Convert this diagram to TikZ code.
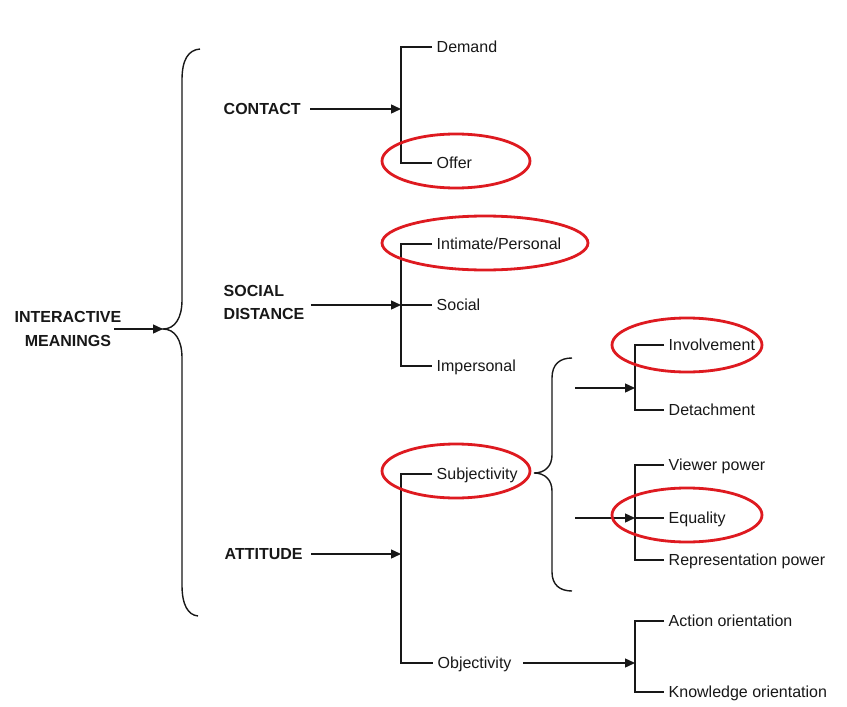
\documentclass[tikz,border=0pt]{standalone}
\usepackage{fontspec}
\setmainfont{Liberation Sans}
\usetikzlibrary{arrows.meta}
\definecolor{ringred}{RGB}{222,26,32}
\definecolor{ink}{RGB}{24,24,24}
\begin{document}
\begin{tikzpicture}[x=1pt,y=-1pt,
  line width=1.4pt, draw=ink,
  leaf/.style={anchor=west,inner xsep=4pt,inner ysep=0pt,text height=11.5pt,text depth=0pt,
    text=ink,font=\fontsize{16}{19}\selectfont},
  head/.style={anchor=west,inner sep=0pt,text height=11.5pt,text depth=0pt,
    text=ink,font=\fontsize{16}{19}\selectfont\bfseries},
  headtwo/.style={inner sep=0pt,text=ink,font=\fontsize{16}{23.5}\selectfont\bfseries},
  arr/.style={-{Triangle[length=10pt,width=9pt]}},
  ring/.style={draw=ringred,line width=2.8pt},
]
% page
\fill[white] (0,0) rectangle (847,707);
\useasboundingbox (0,0) rectangle (847,707);

% headings
\node[headtwo,align=center] (im) at (68,329) {INTERACTIVE\\MEANINGS};
\node[head] (contact) at (223,109) {CONTACT};
\node[headtwo,align=left,anchor=west] (sd) at (223,302.5) {SOCIAL\\DISTANCE};
\node[head] (att) at (224,554) {ATTITUDE};

% leaves
\node[leaf] (demand) at (432,47) {Demand};
\node[leaf] (offer) at (432,163) {Offer};
\node[leaf] (intimate) at (432,244) {Intimate/Personal};
\node[leaf] (social) at (432,305) {Social};
\node[leaf] (impersonal) at (432,366) {Impersonal};
\node[leaf] (subj) at (432,474) {Subjectivity};
\node[leaf] (obj) at (433,663) {Objectivity};
\node[leaf] (involve) at (664,345) {Involvement};
\node[leaf] (detach) at (664,410) {Detachment};
\node[leaf] (viewer) at (664,465) {Viewer power};
\node[leaf] (equal) at (664,518) {Equality};
\node[leaf] (repr) at (664,560) {Representation power};
\node[leaf] (action) at (664,621) {Action orientation};
\node[leaf] (know) at (664,692) {Knowledge orientation};

% spines and brace points
\coordinate (s1) at (401,0);
\coordinate (s3) at (635,0);
\coordinate (bigtip) at (163,329);
\coordinate (ia) at (575,388);
\coordinate (ea) at (575,518);

% large brace
\draw (200,49) .. controls (188,50) and (182,60) .. (182,80) -- (182,300)
  .. controls (182,318) and (175,329) .. (bigtip)
  .. controls (175,329) and (182,340) .. (182,358) -- (182,585)
  .. controls (182,605) and (188,615) .. (198,616);
\draw[arr] ([xshift=-8pt]im.east |- bigtip) -- (bigtip);

% contact
\draw[arr] ([xshift=9pt]contact.east) -- (s1 |- contact.east);
\draw (demand.west) -| (s1 |- offer.west) -- (offer.west);

% social distance
\draw[arr] ([xshift=6pt]sd.east |- social.west) -- (s1 |- social.west);
\draw (intimate.west) -| (s1 |- impersonal.west) -- (impersonal.west);
\draw (s1 |- social.west) -- (social.west);

% attitude
\draw[arr] ([xshift=8pt]att.east) -- (s1 |- att.east);
\draw (subj.west) -| (s1 |- obj.west) -- (obj.west);

% subjectivity brace
\draw (572,358) .. controls (560,358) and (552,364) .. (552,378) -- (552,455)
  .. controls (552,466) and (545,473) .. (534,473)
  .. controls (545,473) and (552,480) .. (552,491) -- (552,572)
  .. controls (552,585) and (560,591) .. (572,591);

\draw[arr] (ia) -- (s3 |- ia);
\draw (involve.west) -| (s3 |- detach.west) -- (detach.west);

\draw[arr] (ea) -- (s3 |- equal.west);
\draw (viewer.west) -| (s3 |- repr.west) -- (repr.west);
\draw (s3 |- equal.west) -- (equal.west);

% objectivity
\draw[arr] ([xshift=7pt]obj.east) -- (s3 |- obj.east);
\draw (action.west) -| (s3 |- know.west) -- (know.west);

% red rings
\draw[ring] (456,161) ellipse [x radius=74pt, y radius=27pt];
\draw[ring] (485,243) ellipse [x radius=103pt, y radius=27pt];
\draw[ring] (456,471) ellipse [x radius=74pt, y radius=27pt];
\draw[ring] (687,345) ellipse [x radius=75pt, y radius=27pt];
\draw[ring] (687,515) ellipse [x radius=75pt, y radius=27pt];
\end{tikzpicture}
\end{document}
